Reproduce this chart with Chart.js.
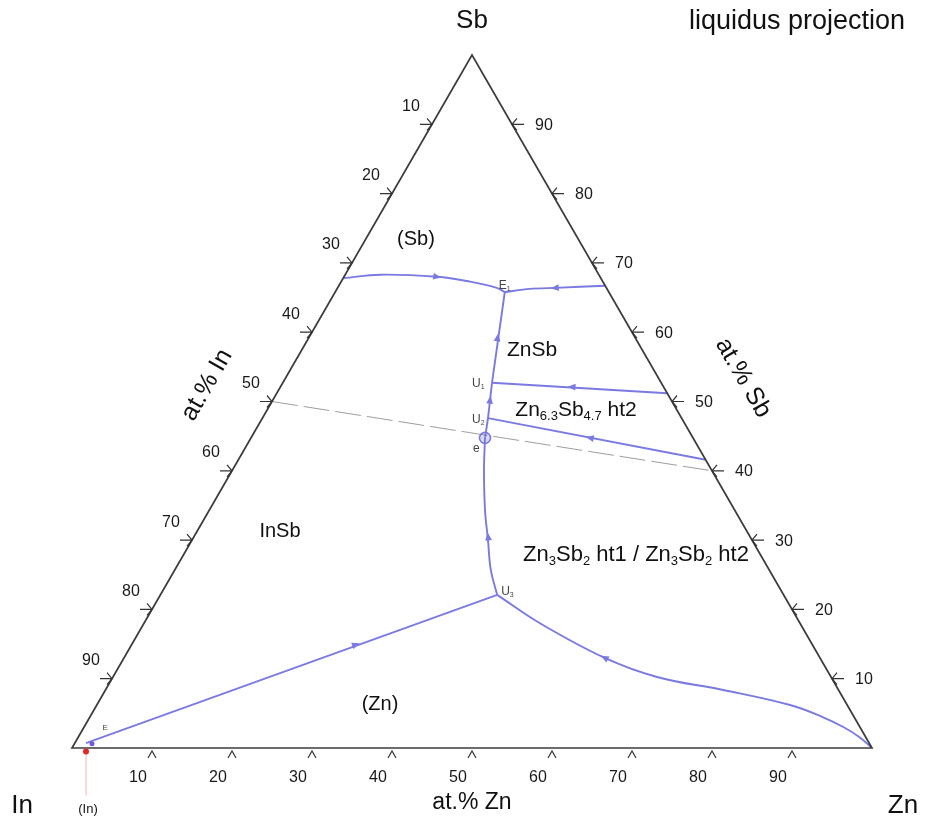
<!DOCTYPE html>
<html>
<head>
<meta charset="utf-8">
<script src="https://cdn.jsdelivr.net/npm/chart.js@4/dist/chart.umd.min.js"></script>
<style>
  html, body { margin: 0; padding: 0; background: #fff; }
  #wrap { width: 935px; height: 824px; }
</style>
</head>
<body>
<div id="wrap"><canvas id="c" width="935" height="824"></canvas></div>
<script>
// Compositions are given as [at.% Zn, at.% Sb]; at.% In is the remainder.
const ticks = [10, 20, 30, 40, 50, 60, 70, 80, 90];

// Univariant liquidus valleys
const valleySbInSb   = [[0, 67.8], [4.4, 68.3], [11.6, 68.0], [16.1, 67.3], [19.9, 66.4], [21.2, 65.8]];
const valleySbZnSb   = [[21.2, 65.8], [24.1, 66.25], [27.2, 66.4], [33.3, 66.7]];
const valleyE1U1     = [[21.2, 65.8], [26.15, 52.7]];
const valleyU1U2e    = [[26.15, 52.7], [28.2, 47.6], [29.25, 44.75]];
const valleyEU3      = [[29.25, 44.75], [31.45, 40.1], [34.45, 34.35], [37.0, 30.0], [39.5, 25.7], [42.1, 22.1]];
const valleyU1Edge   = [[26.15, 52.7], [48.8, 51.2]];
const valleyU2Edge   = [[28.2, 47.6], [58.4, 41.6]];
const valleyU3In     = [[42.1, 22.1], [3.1, 1.6], [1.4, 0.7]];
const valleyU3Zn     = [[42.1, 22.1], [49.5, 18.0], [60.1, 13.0], [68.0, 10.25], [77.2, 8.37], [86.65, 6.2], [91.6, 4.47], [94.9, 3.03], [97.6, 1.6], [100, 0]];

// Quasi-binary section InSb - Zn3Sb2
const quasiBinary    = [[0, 50], [60, 40]];

// Invariant points
const pointE1 = [21.2, 65.8];
const pointU1 = [26.15, 52.7];
const pointU2 = [28.2, 47.6];
const pointE  = [29.25, 44.75];
const pointU3 = [42.1, 22.1];
const pointInSolid = [2, -0.5];

// Direction arrows on the valleys: [from, toward]
const arrows = [
  [[11.6, 68.0], [16.1, 67.3]],
  [[27.2, 66.4], [21.2, 65.8]],
  [[23.6, 59.2], [21.2, 65.8]],
  [[36.45, 52.1], [26.15, 52.7]],
  [[42.4, 44.75], [28.2, 47.6]],
  [[27.15, 50.2], [26.15, 52.7]],
  [[36.8, 30.45], [34.45, 34.35]],
  [[28.0, 14.9], [42.1, 22.1]],
  [[60.1, 13.0], [49.5, 18.0]]
];

const SQ = Math.sqrt(3) / 2;
function tern(p) { return { x: p[0] + p[1] / 2, y: p[1] * SQ }; }
function toXY(list) { return list.map(tern); }

const BLUE = 'rgb(122,122,226)';
const FONT = '"Liberation Sans", Arial, Helvetica, sans-serif';

function line(list, tension) {
  return {
    data: toXY(list), showLine: true, borderColor: BLUE, borderWidth: 1.9,
    pointRadius: 0, tension: tension || 0, fill: false
  };
}

const datasets = [
  Object.assign(line(quasiBinary), { borderColor: 'rgba(110,110,110,0.75)', borderWidth: 0.9, borderDash: [26, 6] }),
  line(valleySbInSb, 0.4),
  line(valleySbZnSb, 0.3),
  line(valleyE1U1),
  line(valleyU1U2e, 0.2),
  line(valleyEU3, 0.4),
  line(valleyU1Edge),
  line(valleyU2Edge),
  line(valleyU3In),
  line(valleyU3Zn, 0.4),
  {
    data: [tern(pointE)], pointRadius: 5.5, pointBorderWidth: 1.6,
    pointBackgroundColor: 'rgba(190,190,245,0.6)', pointBorderColor: BLUE
  }
];

function richText(ctx, x, y, parts, size) {
  const subSize = Math.round(size * 0.6);
  let w = 0;
  parts.forEach(p => {
    ctx.font = (p[1] ? subSize : size) + 'px ' + FONT;
    w += ctx.measureText(p[0]).width;
  });
  let cx = x - w / 2;
  ctx.textAlign = 'left';
  ctx.textBaseline = 'alphabetic';
  parts.forEach(p => {
    ctx.font = (p[1] ? subSize : size) + 'px ' + FONT;
    ctx.fillText(p[0], cx, p[1] ? y + size * 0.2 : y);
    cx += ctx.measureText(p[0]).width;
  });
}

const ternaryFrame = {
  id: 'ternaryFrame',
  afterDatasetsDraw(chart) {
    const ctx = chart.ctx;
    const xs = chart.scales.x, ys = chart.scales.y;
    const px = p => { const t = tern(p); return { x: xs.getPixelForValue(t.x), y: ys.getPixelForValue(t.y) }; };
    const A = px([0, 0]), B = px([100, 0]), C = px([0, 100]);

    ctx.save();
    // Triangle edges
    ctx.strokeStyle = '#3c3c3c';
    ctx.lineWidth = 1.7;
    ctx.beginPath();
    ctx.moveTo(A.x, A.y); ctx.lineTo(B.x, B.y); ctx.lineTo(C.x, C.y); ctx.closePath();
    ctx.stroke();

    // Tick marks and labels
    ctx.lineWidth = 1.2;
    ctx.strokeStyle = '#333';
    ctx.fillStyle = '#1a1a1a';
    ctx.font = '16px ' + FONT;
    ctx.textBaseline = 'middle';
    ctx.textAlign = 'center';
    ticks.forEach(v => {
      // at.% Zn along the base
      let p = px([v, 0]);
      ctx.beginPath();
      ctx.moveTo(p.x - 4, p.y + 10); ctx.lineTo(p.x, p.y + 3); ctx.lineTo(p.x + 4, p.y + 10);
      ctx.stroke();
      ctx.fillText(String(v), p.x - 14, p.y + 30);
      // at.% In along the left edge
      p = px([0, 100 - v]);
      ctx.beginPath();
      ctx.moveTo(p.x - 12, p.y); ctx.lineTo(p.x, p.y);
      ctx.moveTo(p.x - 5, p.y - 6); ctx.lineTo(p.x, p.y); ctx.lineTo(p.x - 5, p.y + 6);
      ctx.stroke();
      ctx.fillText(String(v), p.x - 21, p.y - 18);
      // at.% Sb along the right edge
      p = px([100 - v, v]);
      ctx.beginPath();
      ctx.moveTo(p.x + 12, p.y); ctx.lineTo(p.x, p.y);
      ctx.moveTo(p.x + 5, p.y - 6); ctx.lineTo(p.x, p.y); ctx.lineTo(p.x + 5, p.y + 6);
      ctx.stroke();
      ctx.fillText(String(v), p.x + 32, p.y + 1);
    });

    // Direction arrows
    ctx.fillStyle = BLUE;
    arrows.forEach(a => {
      const p = px(a[0]), q = px(a[1]);
      const ang = Math.atan2(q.y - p.y, q.x - p.x);
      ctx.save();
      ctx.translate(p.x, p.y);
      ctx.rotate(ang);
      ctx.beginPath();
      ctx.moveTo(4.5, 0); ctx.lineTo(-3.5, -3.4); ctx.lineTo(-3.5, 3.4); ctx.closePath();
      ctx.fill();
      ctx.restore();
    });

    // Pure (In) marker below the In corner
    const s = px(pointInSolid);
    ctx.strokeStyle = 'rgba(230,120,120,0.7)';
    ctx.lineWidth = 0.8;
    ctx.beginPath(); ctx.moveTo(s.x, s.y); ctx.lineTo(s.x, s.y + 44); ctx.stroke();
    ctx.fillStyle = 'rgb(225,40,40)';
    ctx.beginPath(); ctx.arc(s.x, s.y, 3, 0, Math.PI * 2); ctx.fill();
    const cb = px([2.2, 0.6]);
    ctx.fillStyle = 'rgb(110,90,220)';
    ctx.beginPath(); ctx.arc(cb.x, cb.y, 2.5, 0, Math.PI * 2); ctx.fill();

    // Invariant point labels
    ctx.fillStyle = '#444';
    const small = (t, sub, p, dx, dy) => {
      ctx.font = '12px ' + FONT; ctx.textAlign = 'left'; ctx.textBaseline = 'alphabetic';
      ctx.fillText(t, p.x + dx, p.y + dy);
      if (sub) {
        const w = ctx.measureText(t).width;
        ctx.font = '7px ' + FONT;
        ctx.fillText(sub, p.x + dx + w, p.y + dy + 2);
      }
    };
    small('E', '1', px(pointE1), -6, -3);
    small('U', '1', px(pointU1), -20, 4);
    small('U', '2', px(pointU2), -16, 5);
    small('e', '', px(pointE), -12, 14);
    small('U', '3', px(pointU3), 4, 0);
    ctx.font = '8px ' + FONT;
    const ce = px([2.5, 2.6]);
    ctx.fillText('E', ce.x, ce.y);

    // Phase-field labels
    ctx.fillStyle = '#111';
    richText(ctx, 416, 245, [['(Sb)', 0]], 20);
    richText(ctx, 532, 356, [['ZnSb', 0]], 21);
    richText(ctx, 576, 416, [['Zn', 0], ['6.3', 1], ['Sb', 0], ['4.7', 1], [' ht2', 0]], 21);
    richText(ctx, 280, 537, [['InSb', 0]], 20);
    richText(ctx, 636, 561, [['Zn', 0], ['3', 1], ['Sb', 0], ['2', 1], [' ht1 / Zn', 0], ['3', 1], ['Sb', 0], ['2', 1], [' ht2', 0]], 22);
    richText(ctx, 380, 710, [['(Zn)', 0]], 20);

    // Corner and axis titles
    ctx.textAlign = 'center';
    ctx.textBaseline = 'middle';
    ctx.font = '26px ' + FONT;
    ctx.fillText('Sb', C.x, 21);
    ctx.fillText('In', 22, 806);
    ctx.fillText('Zn', 903, 806);
    ctx.font = '27px ' + FONT;
    ctx.fillText('liquidus projection', 797, 22);
    ctx.font = '23px ' + FONT;
    ctx.fillText('at.% Zn', 472, 803);
    ctx.font = '13px ' + FONT;
    ctx.fillText('(In)', 88, 809);

    ctx.font = '25px ' + FONT;
    ctx.save(); ctx.translate(207, 385); ctx.rotate(-Math.PI / 3); ctx.fillText('at.% In', 0, 0); ctx.restore();
    ctx.save(); ctx.translate(743, 378); ctx.rotate(Math.PI / 3); ctx.fillText('at.% Sb', 0, 0); ctx.restore();
    ctx.restore();
  }
};

new Chart(document.getElementById('c'), {
  type: 'scatter',
  data: { datasets },
  options: {
    responsive: false,
    animation: false,
    events: [],
    layout: { padding: { left: 72, right: 63, top: 55, bottom: 76 } },
    plugins: { legend: { display: false }, tooltip: { enabled: false } },
    scales: {
      x: { type: 'linear', min: 0, max: 100, display: false },
      y: { type: 'linear', min: 0, max: 100 * SQ, display: false }
    }
  },
  plugins: [ternaryFrame]
});
</script>
</body>
</html>
